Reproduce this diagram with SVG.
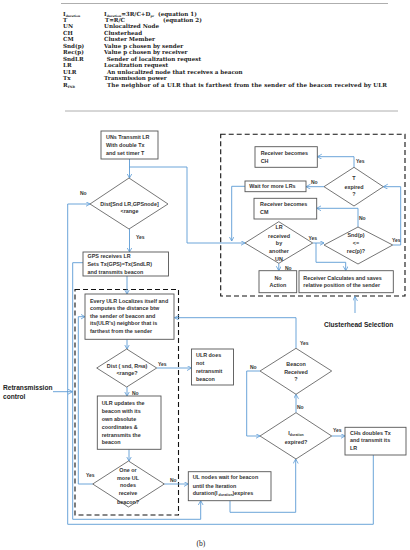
<svg xmlns="http://www.w3.org/2000/svg" width="410" height="550" viewBox="0 0 410 550">
<defs>
<marker id="arr" markerUnits="userSpaceOnUse" markerWidth="6" markerHeight="6" refX="4.5" refY="2.5" orient="auto">
<path d="M0,0 L4.5,2.5 L0,5" fill="none" stroke="#5b9bd5" stroke-width="0.8"/>
</marker>
</defs>
<style>
.lg{font-family:"DejaVu Serif","Liberation Serif",serif;font-weight:bold;font-size:5.6px;fill:#222}
.sb{font-size:3px}
.t{font-family:"Liberation Sans",Arial,sans-serif;font-weight:bold;font-size:5.4px;fill:#333}
.lb{font-family:"Liberation Sans",Arial,sans-serif;font-weight:bold;font-size:5px;fill:#333}
.big{font-family:"Liberation Sans",Arial,sans-serif;font-weight:bold;font-size:6.6px;fill:#222}
.c{text-anchor:middle}
.box{fill:#fff;stroke:#555;stroke-width:0.9}
.dia{fill:#fff;stroke:#666;stroke-width:0.9}
.dash{fill:none;stroke:#111;stroke-width:1.1;stroke-dasharray:5,3}
.cn path{fill:none;stroke:#5b9bd5;stroke-width:0.9;marker-end:url(#arr)}
.rule{stroke:#999;stroke-width:0.8}
</style>
<rect width="410" height="550" fill="#fff"/>
<g id="legend">
<line class="rule" x1="61" y1="3.5" x2="388" y2="3.5"/>
<text class="lg" x="63" y="16">I<tspan class="sb" dy="1">duration</tspan></text>
<text class="lg" x="104" y="16">I<tspan class="sb" dy="1">duration</tspan><tspan dy="-1">=3R/C+D</tspan><tspan class="sb" dy="1">pr</tspan></text>
<text class="lg" x="158" y="16">(equation 1)</text>
<text class="lg" x="63" y="21.8">T</text>
<text class="lg" x="105" y="21.8">T=R/C</text>
<text class="lg" x="163" y="21.8">(equation 2)</text>
<text class="lg" x="63" y="28.3">UN</text><text class="lg" x="104" y="28.3">Unlocalized Node</text>
<text class="lg" x="63" y="34.8">CH</text><text class="lg" x="104" y="34.8">Clusterhead</text>
<text class="lg" x="63" y="41.3">CM</text><text class="lg" x="104" y="41.3">Cluster Member</text>
<text class="lg" x="63" y="47.8">Snd(p)</text><text class="lg" x="104" y="47.8">Value p chosen by sender</text>
<text class="lg" x="63" y="54.3">Rec(p)</text><text class="lg" x="104" y="54.3">Value p chosen by receiver</text>
<text class="lg" x="63" y="60.8">SndLR</text><text class="lg" x="106.7" y="60.8">Sender of localization request</text>
<text class="lg" x="63" y="67.3">LR</text><text class="lg" x="104" y="67.3">Localization request</text>
<text class="lg" x="63" y="73.8">ULR</text><text class="lg" x="107" y="73.8">An unlocalized node that receives a beacon</text>
<text class="lg" x="63" y="80.3">Tx</text><text class="lg" x="104" y="80.3">Transmission power</text>
<text class="lg" x="63" y="86.8">R<tspan class="sb" dy="1">FNB</tspan></text>
<text class="lg" x="107" y="86.8" textLength="280" lengthAdjust="spacing">The neighbor of a ULR that is farthest from the  sender of the beacon received by ULR</text>
<line class="rule" x1="65" y1="111" x2="398" y2="111"/>
</g>
<g id="regions">
<rect class="dash" x="75" y="289.5" width="103.5" height="225.5"/>
<rect class="dash" x="220.7" y="134.3" width="184.3" height="161.7"/>
</g>
<g id="connectors" class="cn">
<path d="M129.5,159 V178"/>
<path d="M129.5,167 H187 V243 H245"/>
<path d="M129.5,229 V252"/>
<path d="M373.3,455 V524.3 H67.7 V204 H90"/>
<path d="M83,262.7 H72.7 V519.3 H200.7 V500.7"/>
<path d="M127,276 V294"/>
<path d="M92.7,484 H78.3 V316.7 H85"/>
<path d="M296,348.3 V317.7 H174.5"/>
<path d="M127,339.3 V349"/>
<path d="M156.7,368 H191.5"/>
<path d="M127,387 V396"/>
<path d="M129,449.3 V461"/>
<path d="M164.3,484 H188.3"/>
<path d="M230,500.7 V512.3 H295.7 V459"/>
<path d="M296,412.7 V394.3"/>
<path d="M260,371 H246.7 V436 H260"/>
<path d="M331.7,436 H345"/>
<path d="M354,167.3 V156.7 H317.3"/>
<path d="M324,186.7 H306"/>
<path d="M245,186.3 H231.7 V241"/>
<path d="M358,227 V208.3 H316.7"/>
<path d="M312.7,243 H324"/>
<path d="M316,243 V262.3 H345.7 V270.7"/>
<path d="M278.8,263.3 V270.7"/>
<path d="M392.7,245 H400.7 V186.7 H383.3"/>
<path d="M355,313 V296.5"/>
<path d="M53,391.7 H72.5"/>
</g>
<g id="edge-labels">
<text class="lb" x="80" y="195">No</text>
<text class="lb" x="136" y="238.5">Yes</text>
<text class="lb" x="86" y="476.5">Yes</text>
<text class="lb" x="300" y="345">Yes</text>
<text class="lb" x="158" y="365.5">Yes</text>
<text class="lb" x="132" y="394.5">No</text>
<text class="lb" x="170" y="482">No</text>
<text class="lb" x="297" y="408.5">No</text>
<text class="lb" x="250" y="368.5">No</text>
<text class="lb" x="333" y="432">Yes</text>
<text class="lb" x="356" y="163">Yes</text>
<text class="lb" x="311" y="183.5">No</text>
<text class="lb" x="359" y="219.5">No</text>
<text class="lb" x="308.5" y="239.5">Yes</text>
<text class="lb" x="285" y="270">No</text>
<text class="lb" x="392" y="242">Yes</text>
</g>
<g id="n-uns"><rect class="box" x="101" y="131" width="57" height="28"/>
<text class="t" x="106" y="138.5">UNs Transmit LR</text><text class="t" x="106" y="146.5">With double  Tx</text><text class="t" x="106" y="154.5">and set timer T</text></g>
<g id="d-dist"><polygon class="dia" points="129,178 168,204 129,229 90,204"/>
<text class="t c" x="129.5" y="205.5" font-size="6px">Dist[Snd LR,GPSnode]</text><text class="t c" x="129.5" y="213">&lt;range</text></g>
<g id="n-gps"><rect class="box" x="83" y="252" width="85.5" height="24"/>
<text class="t" x="87.5" y="258">GPS receives LR</text><text class="t" x="87.5" y="266">Sets Tx(GPS)=Tx(SndLR)</text><text class="t" x="87.5" y="273.5">and transmits beacon</text></g>
<g id="n-ulr"><rect class="box" x="85" y="294" width="89" height="45.3"/>
<text class="t" x="90" y="302.5">Every ULR Localizes  itself and</text><text class="t" x="90" y="310">computes the distance btw</text><text class="t" x="90" y="317.8">the sender of beacon  and</text><text class="t" x="90" y="325">its(ULR's) neighbor that is</text><text class="t" x="90" y="332.8">farthest from the sender</text></g>
<g id="d-rfnb"><polygon class="dia" points="126.7,349 156.7,368 126.7,387 96.7,368"/>
<text class="t c" x="127" y="367.5">Dist ( snd, R<tspan font-size="3.5px" dy="0.8">FNB</tspan><tspan dy="-0.8">)</tspan></text><text class="t c" x="127" y="375">&lt;range?</text></g>
<g id="n-notx"><rect class="box" x="191.5" y="349" width="42" height="36"/>
<text class="t" x="196" y="356.8">ULR does</text><text class="t" x="196" y="365">not</text><text class="t" x="196" y="372.8">retransmit</text><text class="t" x="196" y="380.8">beacon</text></g>
<g id="n-upd"><rect class="box" x="97.3" y="396" width="63.7" height="53.3"/>
<text class="t" x="101.7" y="404.5">ULR  updates the</text><text class="t" x="101.7" y="412.5">beacon with its</text><text class="t" x="101.7" y="420.5">own absolute</text><text class="t" x="101.7" y="428.5">coordinates &amp;</text><text class="t" x="101.7" y="436.5">retransmits the</text><text class="t" x="101.7" y="444">beacon</text></g>
<g id="d-one"><polygon class="dia" points="128.5,461 164.3,484 128.5,507 92.7,484"/>
<text class="t c" x="128" y="471.8">One or</text><text class="t c" x="128" y="479.5">more UL</text><text class="t c" x="128" y="487">nodes</text><text class="t c" x="128" y="495">receive</text><text class="t c" x="128" y="503.5">beacon?</text></g>
<g id="n-wait"><rect class="box" x="188.3" y="471.7" width="82.7" height="29"/>
<text class="t" x="192.7" y="479">UL nodes wait for beacon</text><text class="t" x="192.7" y="487.5">until the Iteration</text><text class="t" x="192.7" y="495">duration(I<tspan font-size="3.5px" dy="0.8"> duration</tspan><tspan dy="-0.8">)expires</tspan></text></g>
<g id="d-idur"><polygon class="dia" points="296,412.7 331.7,436 296,459 260,436"/>
<text class="t c" x="296" y="435">I<tspan font-size="3.5px" dy="0.8">duration</tspan></text><text class="t c" x="296" y="443.5">expired?</text></g>
<g id="d-beacon"><polygon class="dia" points="296,348.3 331.7,371 296,394.3 260,371"/>
<text class="t c" x="296" y="366">Beacon</text><text class="t c" x="296" y="374">Received</text><text class="t c" x="296" y="381">?</text></g>
<g id="n-chs"><rect class="box" x="345" y="427.3" width="61" height="27.7"/>
<text class="t" x="350" y="434.5">CHs doubles Tx</text><text class="t" x="350" y="442">and transmit its</text><text class="t" x="350" y="449.5">LR</text></g>
<g id="n-ch"><rect class="box" x="255" y="146.7" width="62.3" height="20.6"/>
<text class="t" x="260.7" y="154.5">Receiver becomes</text><text class="t" x="260.7" y="162.5">CH</text></g>
<g id="d-t"><polygon class="dia" points="354,167.3 383.3,186.7 354,206 324,186.7"/>
<text class="t c" x="354" y="180">T</text><text class="t c" x="354" y="188.5">expired</text><text class="t c" x="354" y="196">?</text></g>
<g id="n-more"><rect class="box" x="245" y="181" width="61" height="10.7"/>
<text class="t" x="249.3" y="188">Wait for more LRs</text></g>
<g id="n-cm"><rect class="box" x="254" y="198.3" width="62.7" height="20.7"/>
<text class="t" x="260" y="206">Receiver becomes</text><text class="t" x="260" y="214">CM</text></g>
<g id="d-lr"><polygon class="dia" points="278.8,221.7 312.7,243 278.8,263.3 245,243"/>
<text class="t c" x="279" y="228.5">LR</text><text class="t c" x="279" y="237.5">received</text><text class="t c" x="279" y="245">by</text><text class="t c" x="279" y="252.5">another</text><text class="t c" x="279" y="261">UN</text></g>
<g id="d-snd"><polygon class="dia" points="358,227 392.7,245 358,264 324,245"/>
<text class="t c" x="356" y="237">Snd(p)</text><text class="t c" x="356" y="245">&lt;=</text><text class="t c" x="356" y="252.5">rec(p)?</text></g>
<g id="n-noact"><rect class="box" x="259" y="270.7" width="37.7" height="22"/>
<text class="t c" x="278" y="279.5">No</text><text class="t c" x="278" y="287">Action</text></g>
<g id="n-calc"><rect class="box" x="299" y="270.7" width="94.3" height="22"/>
<text class="t" x="303.3" y="279.5">Receiver Calculates  and saves</text><text class="t" x="303.3" y="287">relative position of the sender</text></g>
<g id="labels">
<text class="big" x="324" y="326.5">Clusterhead Selection</text>
<text class="big" x="3" y="389.5">Retransmission</text>
<text class="big" x="3" y="398.5">control</text>
<text font-family="Liberation Serif, serif" font-size="7.5px" fill="#222" x="196.5" y="546">(b)</text>
</g>
</svg>
